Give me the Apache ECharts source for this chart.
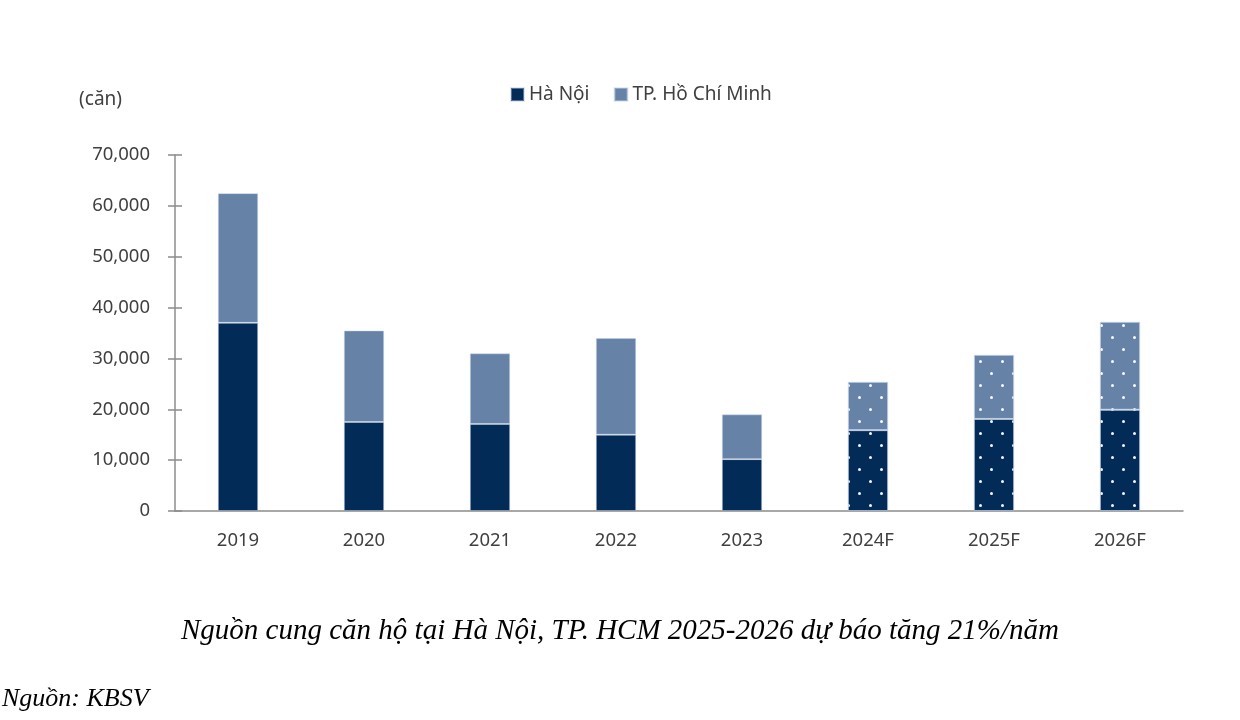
<!DOCTYPE html>
<html>
<head>
    <meta charset="UTF-8">
    <title>nguon cung can ho</title>
    <script src="https://cdn.jsdelivr.net/npm/echarts@6/dist/echarts.min.js"></script>
    <style>
        *{margin:0;padding:0}
        html,body{width:100%;height:100%;background:#fff}
        #main{width:1240px;height:720px}
    </style>
</head>
<body>
    <div id="main"></div>
    <script type="text/javascript">
        // số liệu (căn)
        var categories = ['2019', '2020', '2021', '2022', '2023', '2024F', '2025F', '2026F'];
        var hanoi = [37000, 17500, 17100, 15000, 10200, 15900, 18100, 19900];
        var hcm = [25500, 18000, 13900, 19000, 8800, 9500, 12600, 17300];
        var forecast = [false, false, false, false, false, true, true, true];
        var yTicks = [0, 10000, 20000, 30000, 40000, 50000, 60000, 70000];

        var FONT = '"Noto Sans", sans-serif';
        var SERIF = '"Liberation Serif", serif';
        var dotDecal = {
            symbol: 'circle',
            symbolSize: 1,
            color: 'rgba(255,255,255,0.95)',
            dashArrayX: [[3, 19], [0, 11, 3, 8]],
            dashArrayY: [3, 8.5],
            rotation: 0
        };

        function withDecal(values) {
            return values.map(function (v, i) {
                if (!forecast[i]) return v;
                return {value: v, itemStyle: {decal: dotDecal}};
            });
        }

        var myChart = echarts.init(document.getElementById('main'));
        var option = {
            animation: false,
            textStyle: {fontFamily: FONT},
            title: [{
                text: 'Nguồn cung căn hộ tại Hà Nội, TP. HCM 2025-2026 dự báo tăng 21%/năm',
                left: 'center',
                top: 612,
                textStyle: {fontFamily: SERIF, fontStyle: 'italic', fontWeight: 'normal', fontSize: 29, color: '#000'}
            }, {
                text: 'Nguồn: KBSV',
                left: 2,
                top: 686,
                padding: 0,
                textStyle: {fontFamily: SERIF, fontStyle: 'italic', fontWeight: 'normal', fontSize: 26, color: '#000'}
            }],
            legend: {
                top: 80,
                left: 505,
                icon: 'rect',
                itemWidth: 13,
                itemHeight: 13,
                itemGap: 24,
                textStyle: {fontSize: 19, color: '#404040', fontFamily: FONT},
                data: ['Hà Nội', 'TP. Hồ Chí Minh']
            },
            grid: {left: 175, right: 57, top: 155, bottom: 209},
            xAxis: {
                type: 'category',
                data: categories,
                axisLine: {lineStyle: {color: '#8c8c8c', width: 1.5}},
                axisTick: {inside: true, length: 6, lineStyle: {color: '#8c8c8c', width: 1.5}},
                axisLabel: {fontSize: 18.5, color: '#404040', margin: 20}
            },
            yAxis: [{
                type: 'value',
                min: 0,
                max: 70000,
                interval: 10000,
                name: '(căn)',
                nameLocation: 'end',
                nameGap: 46,
                nameTextStyle: {fontSize: 19, color: '#404040', align: 'right', padding: [0, 53, 0, 0]},
                axisLine: {show: true, lineStyle: {color: '#8c8c8c', width: 1.5}},
                axisTick: {show: true, length: 7, lineStyle: {color: '#8c8c8c', width: 1.5}},
                axisLabel: {
                    fontSize: 18.5, color: '#404040', margin: 25,
                    formatter: function (v) { return yTicks.indexOf(v) >= 0 ? v.toLocaleString('en-US') : ''; }
                },
                splitLine: {show: false}
            }, {
                // vạch chia phía trong trục tung
                type: 'value',
                position: 'left',
                min: 0,
                max: 70000,
                interval: 10000,
                axisLine: {show: false},
                axisTick: {show: true, inside: true, length: 7, lineStyle: {color: '#8c8c8c', width: 1.5}},
                axisLabel: {show: false},
                splitLine: {show: false}
            }],
            series: [{
                name: 'Hà Nội',
                type: 'bar',
                stack: 'total',
                barWidth: '32%',
                itemStyle: {color: '#022b57', borderColor: 'rgba(190,205,225,0.45)', borderWidth: 1},
                data: withDecal(hanoi)
            }, {
                name: 'TP. Hồ Chí Minh',
                type: 'bar',
                stack: 'total',
                barWidth: '32%',
                itemStyle: {color: '#6682a7', borderColor: 'rgba(200,215,232,0.45)', borderWidth: 1},
                data: withDecal(hcm)
            }]
        };
        myChart.setOption(option);
    </script>
</body>
</html>
